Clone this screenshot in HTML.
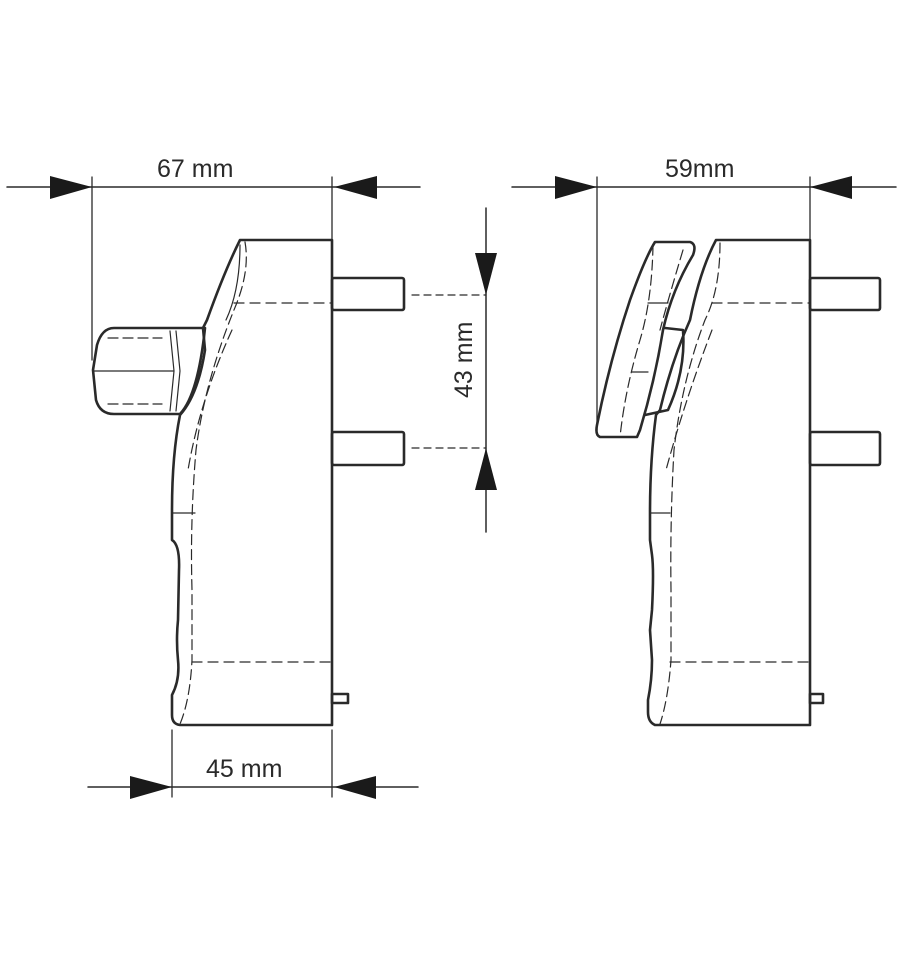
<!DOCTYPE html>
<html><head><meta charset="utf-8"><style>
html,body{margin:0;padding:0;background:#fff;}
svg{display:block;}
text{font-family:"Liberation Sans",sans-serif;font-size:25px;fill:#2a2a2a;}
</style></head><body>
<svg width="900" height="962" viewBox="0 0 900 962" xmlns="http://www.w3.org/2000/svg">
<g stroke="#2a2a2a" fill="none" stroke-linecap="round" stroke-linejoin="round">
<!-- dimension 67 -->
<line x1="7" y1="187" x2="420" y2="187" stroke-width="1.5"/>
<polygon points="50,176 92,187 50,199" fill="#1a1a1a" stroke="none"/>
<polygon points="377,176 334,187 377,199" fill="#1a1a1a" stroke="none"/>
<line x1="92" y1="177" x2="92" y2="360" stroke-width="1.3"/>
<line x1="332" y1="177" x2="332" y2="240" stroke-width="1.3"/>
<!-- dimension 59 -->
<line x1="512" y1="187" x2="896" y2="187" stroke-width="1.5"/>
<polygon points="555,176 597,187 555,199" fill="#1a1a1a" stroke="none"/>
<polygon points="852,176 810,187 852,199" fill="#1a1a1a" stroke="none"/>
<line x1="597" y1="177" x2="597" y2="430" stroke-width="1.3"/>
<line x1="810" y1="177" x2="810" y2="240" stroke-width="1.3"/>
<!-- dimension 45 -->
<line x1="88" y1="787" x2="418" y2="787" stroke-width="1.5"/>
<polygon points="130,776 172,787 130,799" fill="#1a1a1a" stroke="none"/>
<polygon points="376,776 334,787 376,799" fill="#1a1a1a" stroke="none"/>
<line x1="172" y1="730" x2="172" y2="797" stroke-width="1.3"/>
<line x1="332" y1="730" x2="332" y2="797" stroke-width="1.3"/>
<!-- dimension 43 -->
<line x1="486" y1="208" x2="486" y2="532" stroke-width="1.5"/>
<polygon points="475,253 486,295 497,253" fill="#1a1a1a" stroke="none"/>
<polygon points="475,490 486,448 497,490" fill="#1a1a1a" stroke="none"/>
<line x1="412" y1="295" x2="486" y2="295" stroke-width="1.2" stroke-dasharray="7,5"/>
<line x1="412" y1="448" x2="486" y2="448" stroke-width="1.2" stroke-dasharray="7,5"/>

<!-- LEFT DEVICE -->
<g stroke-width="2.6">
<path d="M240,240 L332,240 L332,725 L180,725 Q172,724 172,715 L172,695 Q180,680 178,660 Q176,640 178,620 L179,570 Q180,545 172,540 L172,510 Q172,455 180,415 Q198,395 205,350 L203,328 L207,320 Q225,270 240,240 Z"/>
<path d="M114,328 L205,328 Q198,395 180,414 L114,414 Q100,414 96,400 L93,370 L97,345 Q102,328 114,328 Z"/>
<rect x="332" y="278" width="72" height="32" rx="2"/>
<rect x="332" y="432" width="72" height="33" rx="2"/>
<rect x="332" y="694" width="16" height="9"/>
</g>
<g stroke-width="1.2">
<line x1="94" y1="371" x2="174" y2="371"/>
<path d="M170,331 L174,371 L170,411 M176,331 L180,371 L176,411"/>
<line x1="172" y1="513" x2="195" y2="513"/>
<path d="M245,242 Q250,270 236,305 Q205,380 196,450 Q190,520 192,590 L192,660 Q190,700 180,724" stroke-dasharray="10,5"/>
<path d="M240,245 Q240,290 226,320" />
<path d="M232,330 Q200,400 188,470" stroke-dasharray="10,5"/>
<line x1="234" y1="303" x2="332" y2="303" stroke-dasharray="10,6"/>
<line x1="192" y1="662" x2="332" y2="662" stroke-dasharray="10,6"/>
<path d="M108,338 L162,338 M108,404 L162,404" stroke-dasharray="10,5"/>
</g>

<!-- RIGHT DEVICE -->
<g stroke-width="2.6">
<path d="M716,240 L810,240 L810,725 L655,725 Q648,722 648,712 L648,700 Q652,680 652,660 L650,630 L652,610 Q654,570 652,555 L650,540 L650,513 Q650,460 656,415 L660,410 Q672,360 690,320 Q700,270 716,240 Z"/>
<path d="M655,242 L690,242 Q697,244 693,255 Q672,290 663,330 Q655,380 640,430 L637,437 L600,437 Q595,435 597,425 Q610,360 630,300 Q645,258 655,242 Z"/>
<path d="M665,328 L683,330 Q686,370 668,410 L645,415"/>
<rect x="810" y="278" width="70" height="32" rx="2"/>
<rect x="810" y="432" width="70" height="33" rx="2"/>
<rect x="810" y="694" width="13" height="9"/>
</g>
<g stroke-width="1.2">
<line x1="650" y1="513" x2="670" y2="513"/>
<path d="M720,243 Q720,290 705,320 Q682,380 674,450 Q670,520 671,590 L671,660 Q668,700 660,724" stroke-dasharray="10,5"/>
<path d="M712,330 Q685,400 666,470" stroke-dasharray="10,5"/>
<line x1="712" y1="303" x2="810" y2="303" stroke-dasharray="10,6"/>
<line x1="670" y1="662" x2="810" y2="662" stroke-dasharray="10,6"/>
<path d="M653,245 Q652,300 640,340 Q625,390 620,437" stroke-dasharray="10,5"/>
<path d="M683,250 Q668,300 660,330" stroke-dasharray="10,5"/>
<path d="M648,303 L668,303 M632,372 L648,372"/>
</g>
</g>
<text x="157" y="177">67 mm</text>
<text x="665" y="177">59mm</text>
<text x="206" y="777">45 mm</text>
<text transform="translate(472,398) rotate(-90)">43 mm</text>
</svg>
</body></html>
